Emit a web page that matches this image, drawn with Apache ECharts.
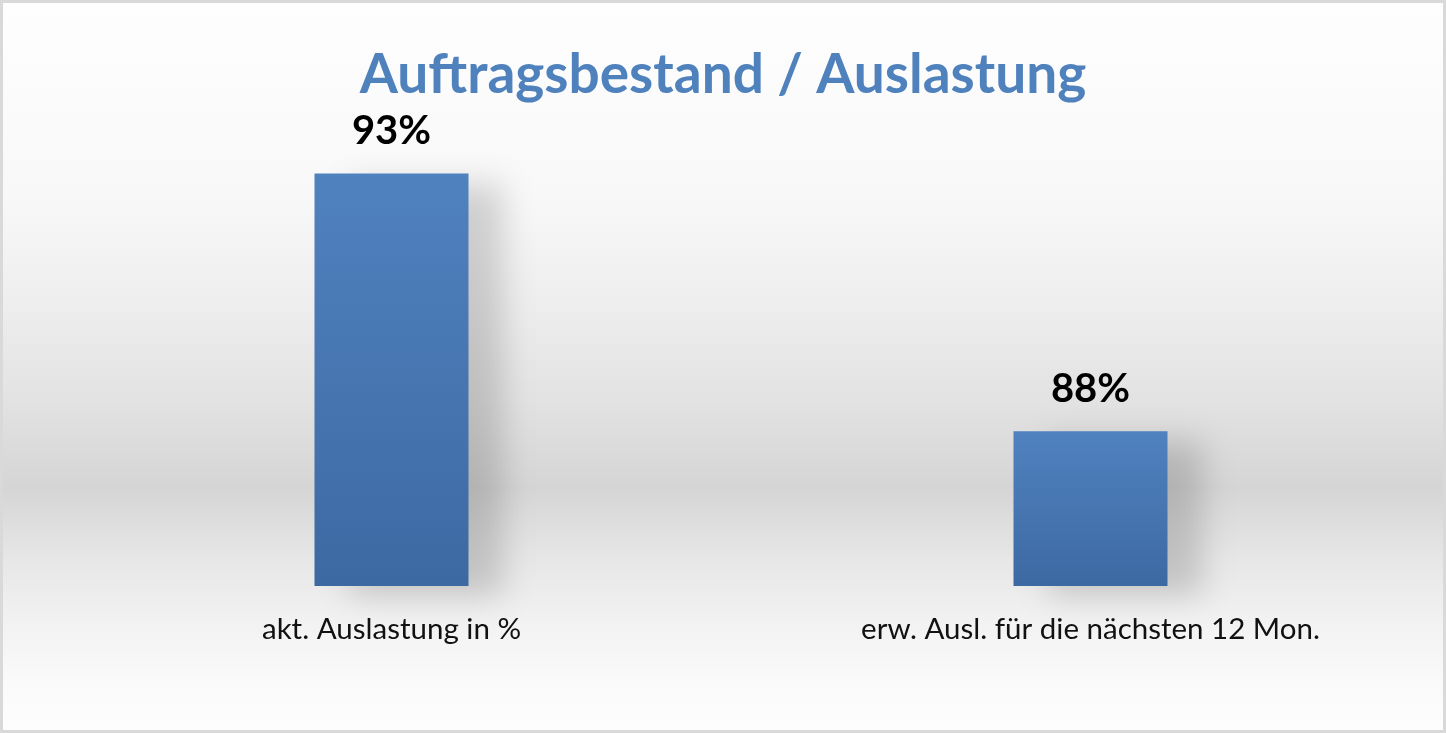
<!DOCTYPE html>
<html>
<head>
<meta charset="utf-8">
<script src="https://cdn.jsdelivr.net/npm/echarts@6/dist/echarts.min.js"></script>
<style>
  html, body { margin: 0; padding: 0; background: #fff; }
  #chart { width: 1446px; height: 733px; }
</style>
</head>
<body>
<div id="chart"></div>
<script>
  // data
  var categories = ['akt. Auslastung in %', 'erw. Ausl. für die nächsten 12 Mon.'];
  var values = [93, 88];
  var titleText = 'Auftragsbestand / Auslastung';

  var chart = echarts.init(document.getElementById('chart'));

  var barGradient = new echarts.graphic.LinearGradient(0, 0, 0, 1, [
    { offset: 0, color: '#5082bf' },
    { offset: 1, color: '#3d69a2' }
  ]);

  var option = {
    animation: false,
    graphic: [{
      type: 'rect',
      z: -10,
      silent: true,
      shape: { x: 1.5, y: 1.5, width: 1443, height: 730 },
      style: {
        fill: new echarts.graphic.LinearGradient(0, 0, 0, 1, [
          { offset: 0, color: '#fefefe' },
          { offset: 0.27, color: '#f8f8f8' },
          { offset: 0.41, color: '#eeeeee' },
          { offset: 0.55, color: '#e2e2e2' },
          { offset: 0.665, color: '#d5d5d5' },
          { offset: 0.76, color: '#e6e6e6' },
          { offset: 0.85, color: '#f2f2f2' },
          { offset: 0.93, color: '#fafafa' },
          { offset: 1, color: '#fdfdfd' }
        ]),
        stroke: '#d9d9d9',
        lineWidth: 3
      }
    }],
    title: {
      text: titleText,
      left: 'center',
      top: 43,
      textStyle: {
        fontFamily: 'Lato',
        fontWeight: 'bold',
        fontSize: 55,
        color: '#4f81bd'
      }
    },
    grid: { left: 42, right: 6, top: 122, bottom: 147 },
    xAxis: {
      type: 'category',
      data: categories,
      axisLine: { show: false },
      axisTick: { show: false },
      axisLabel: {
        margin: 28,
        fontFamily: 'Lato',
        fontSize: 29.5,
        color: '#111'
      }
    },
    yAxis: {
      type: 'value',
      min: 85,
      max: 94,
      show: false,
      splitLine: { show: false }
    },
    series: [{
      type: 'bar',
      data: values,
      barWidth: 154,
      itemStyle: {
        color: barGradient,
        shadowColor: 'rgba(0,0,0,0.16)',
        shadowBlur: 30,
        shadowOffsetX: 34,
        shadowOffsetY: 10
      },
      label: {
        show: true,
        position: 'top',
        distance: 22,
        formatter: '{c}%',
        fontFamily: 'Lato',
        fontWeight: 'bold',
        fontSize: 40,
        color: '#000'
      }
    }]
  };

  chart.setOption(option);
</script>
</body>
</html>
